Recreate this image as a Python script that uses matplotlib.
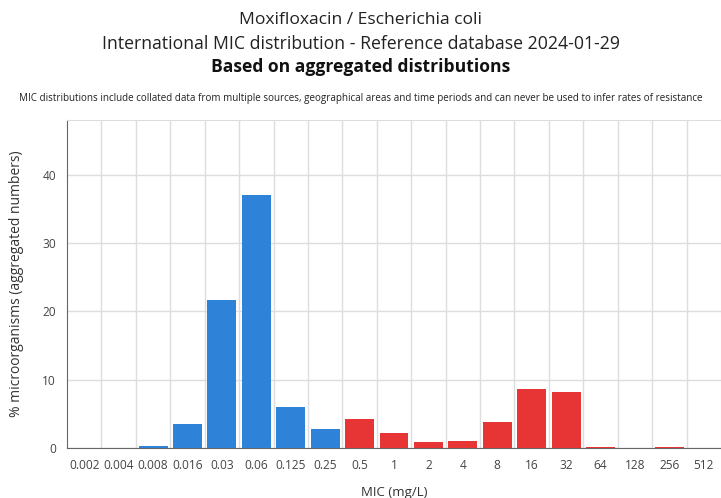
import numpy as np
import matplotlib.pyplot as plt

plt.rcParams['font.family'] = ['Open Sans', 'DejaVu Sans']

# MIC classes (mg/L) and % of isolates
mic_labels = ['0.002', '0.004', '0.008', '0.016', '0.03', '0.06', '0.125', '0.25',
              '0.5', '1', '2', '4', '8', '16', '32', '64', '128', '256', '512']
percent = [0, 0, 0.35, 3.5, 21.6, 37.0, 5.95, 2.85,
           4.2, 2.2, 0.85, 1.0, 3.75, 8.65, 8.25, 0.2, 0, 0.2, 0]
# wild type (blue) up to 0.25, non-wild type (red) above
wild_type = [True] * 8 + [False] * 11

blue = '#2e83d8'
red = '#e73535'

fig = plt.figure(figsize=(7.21, 4.98), dpi=100)
ax = fig.add_axes([0.093, 0.1004, 0.907, 0.6586])

x = np.arange(len(mic_labels))
colors = [blue if w else red for w in wild_type]
ax.bar(x, percent, width=0.84, color=colors, zorder=3)

ax.set_xlim(-0.5, len(mic_labels) - 0.5)
ax.set_ylim(0, 48)
ax.set_xticks(x)
ax.set_xticklabels(mic_labels)
ax.set_yticks([0, 10, 20, 30, 40])

# vertical grid at class boundaries
ax.set_xticks(np.arange(0.5, len(mic_labels) - 0.5, 1), minor=True)
ax.grid(which='minor', axis='x', color='#dddddd', linewidth=1, zorder=0)
ax.grid(which='major', axis='y', color='#dddddd', linewidth=1, zorder=0)
ax.tick_params(which='both', length=0)
ax.tick_params(axis='both', labelsize=8.6, colors='#444444', pad=8)

for side in ['top', 'right']:
    ax.spines[side].set_color('#dddddd')
ax.spines['left'].set_color('#666666')
ax.spines['bottom'].set_color('#666666')

ax.set_xlabel('MIC (mg/L)', fontsize=9.5, color='#333333', labelpad=10)
ax.set_ylabel('% microorganisms (aggregated numbers)', fontsize=10, color='#333333', labelpad=13)

fig.text(0.5, 0.959, 'Moxifloxacin / Escherichia coli', ha='center', va='center',
         fontsize=12.6, color='#222222')
fig.text(0.5, 0.911, 'International MIC distribution - Reference database 2024-01-29',
         ha='center', va='center', fontsize=12.7, color='#222222')
fig.text(0.5, 0.866, 'Based on aggregated distributions', ha='center', va='center',
         fontsize=12.6, fontweight='bold', color='#111111')
fig.text(0.5, 0.803, 'MIC distributions include collated data from multiple sources, geographical areas '
         'and time periods and can never be used to infer rates of resistance',
         ha='center', va='center', fontsize=7.1, color='#222222')

fig.savefig('out.png', dpi=100)
